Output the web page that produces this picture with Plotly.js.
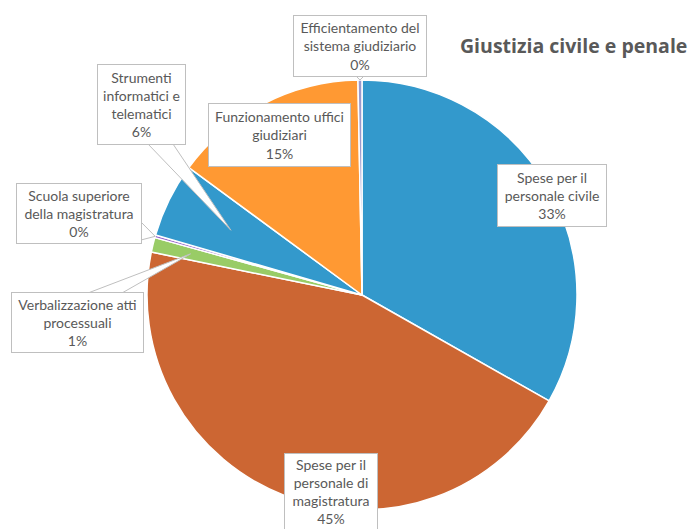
<!DOCTYPE html>
<html>
<head>
<meta charset="utf-8">
<script src="https://cdn.plot.ly/plotly-3.0.1.min.js"></script>
<style>html,body{margin:0;padding:0;background:#fff;}#chart{width:692px;height:529px;}</style>
</head>
<body>
<div id="chart"></div>
<script>
// ---- data ----
var categories = ["Spese per il personale civile", "Spese per il personale di magistratura", "Verbalizzazione atti processuali", "Scuola superiore della magistratura", "Strumenti informatici e telematici", "Funzionamento uffici giudiziari", "Efficientamento del sistema giudiziario"];
var shares = [33.2, 45.0, 1.1, 0.2, 5.6, 14.6, 0.3];
var labelText = ["Spese per il<br>personale civile", "Spese per il<br>personale di<br>magistratura", "Verbalizzazione atti<br>processuali", "Scuola superiore<br>della magistratura", "Strumenti<br>informatici e<br>telematici", "Funzionamento uffici<br>giudiziari", "Efficientamento del<br>sistema giudiziario"];
var chartTitle = "Giustizia civile e penale";

// ---- layout / style ----
var W = 692, H = 529;
var CX = 362, CY = 295, R = 215;
var colors = ["#3399cc", "#cc6633", "#99cc66", "#9966cc", "#3399cc", "#ff9933", "#9999cc"];
// label boxes: [centerX, centerY, width, height] in px
var boxes = [
  [552, 195.5, 110, 63],
  [331, 491, 94, 77],
  [77.5, 322.5, 133, 61],
  [79, 213.5, 126, 61],
  [141.5, 104.5, 89, 81],
  [279.5, 135, 143, 64],
  [360, 46, 134, 62]
];
// callout wedges: slice index, radial fraction of tip, base points (px)
var callouts = [
  {i: 4, rf: 0.68, base: [[148, 144], [173, 144]]},
  {i: 3, rf: 1.0, base: [[141, 222], [141, 240]]},
  {i: 2, rf: 0.82, base: [[88, 293], [122, 293]]},
  {i: 6, rf: 1.0, base: [[356, 76], [364, 76]]}
];

function px(x) { return x / W; }
function py(y) { return 1 - y / H; }

var total = shares.reduce(function (a, b) { return a + b; }, 0);
var cum = [], acc = 0;
shares.forEach(function (v) { cum.push(acc); acc += v; });
function midAngle(i) { return (cum[i] + shares[i] / 2) / total * 2 * Math.PI; }
function tipPoint(i, rf) {
  var a = midAngle(i);
  return [CX + rf * R * Math.sin(a), CY - rf * R * Math.cos(a)];
}

var trace = {
  type: 'pie',
  labels: categories,
  values: shares,
  sort: false,
  direction: 'clockwise',
  rotation: 0,
  textinfo: 'none',
  hoverinfo: 'label+percent',
  marker: {colors: colors, line: {color: '#ffffff', width: 1.5}},
  domain: {x: [px(CX - R), px(CX + R)], y: [py(CY + R), py(CY - R)]},
  showlegend: false
};

var shapes = callouts.map(function (c) {
  var t = tipPoint(c.i, c.rf);
  var p = 'M ' + px(c.base[0][0]) + ' ' + py(c.base[0][1]) +
          ' L ' + px(t[0]) + ' ' + py(t[1]) +
          ' L ' + px(c.base[1][0]) + ' ' + py(c.base[1][1]);
  return {type: 'path', xref: 'paper', yref: 'paper', path: p,
          fillcolor: '#ffffff', line: {color: '#bfbfbf', width: 1}, layer: 'above'};
});

var annotations = categories.map(function (c, i) {
  var b = boxes[i];
  var pct = Math.round(shares[i] / total * 100) + '%';
  return {
    xref: 'paper', yref: 'paper', x: px(b[0]), y: py(b[1]),
    xanchor: 'center', yanchor: 'middle',
    text: labelText[i] + '<br>' + pct,
    showarrow: false, align: 'center',
    width: b[2] - 2, height: b[3] - 2, borderpad: 0,
    bgcolor: '#ffffff', bordercolor: '#bfbfbf', borderwidth: 1,
    font: {family: 'Lato, "Open Sans", sans-serif', size: 14, color: '#595959'}
  };
});
annotations.push({
  xref: 'paper', yref: 'paper', x: px(458), y: py(45),
  xanchor: 'left', yanchor: 'middle', showarrow: false,
  text: '<b>' + chartTitle + '</b>',
  font: {family: '"Open Sans", Lato, sans-serif', size: 19.5, color: '#595959'}
});

var layout = {
  width: W, height: H,
  margin: {l: 0, r: 0, t: 0, b: 0},
  paper_bgcolor: '#ffffff',
  shapes: shapes,
  annotations: annotations
};

Plotly.newPlot('chart', [trace], layout, {displayModeBar: false, staticPlot: true});
</script>
</body>
</html>
